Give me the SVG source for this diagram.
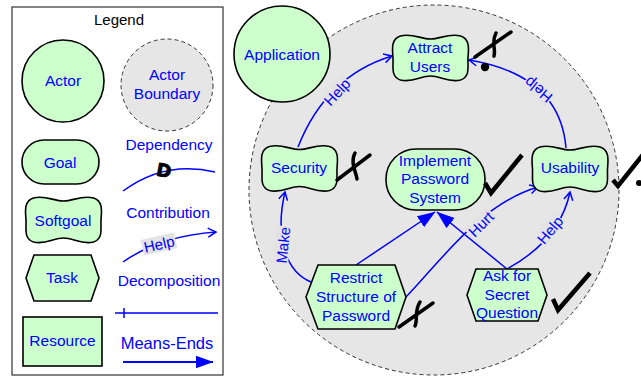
<svg xmlns="http://www.w3.org/2000/svg" width="641" height="378" viewBox="0 0 641 378">
<style>
text{font-family:"Liberation Sans",Arial,sans-serif;font-size:15.5px;fill:#0000ff;text-anchor:middle}
.n{fill:#ccffcc;stroke:#000;stroke-width:1.6}
.c{fill:none;stroke:#0000ff;stroke-width:1.5}
.mk{fill:none;stroke:#000;stroke-width:3.5;stroke-linecap:round;stroke-linejoin:round}
.ck{fill:none;stroke:#000;stroke-width:4.5;stroke-linecap:butt;stroke-linejoin:miter}
.lb{font-size:15px}
.lbg{fill:#e3e3e3}
.bd{fill:#e6e6e6;stroke:#333;stroke-width:1;stroke-dasharray:4,3}
</style>
<defs>
<path id="sg" d="M-30,-22 C-18,-25 -10,-19 0,-19 C10,-19 18,-25 30,-22 C40,-19 38,-8 37.5,0 C37,8 40,19 30,22 C18,25 10,18 0,18 C-10,18 -18,25 -30,22 C-40,19 -37,8 -37.5,0 C-38,-8 -40,-19 -30,-22 Z"/>
<marker id="open" markerWidth="12" markerHeight="12" refX="9" refY="5" orient="auto" markerUnits="userSpaceOnUse" viewBox="0 0 12 10"><path d="M1,0.5 L9,5 L1,9.5" fill="none" stroke="#0000ff" stroke-width="1.5"/></marker>
<marker id="filled" markerWidth="18" markerHeight="14" refX="17.5" refY="7" orient="auto" markerUnits="userSpaceOnUse" viewBox="0 0 18 14"><path d="M0,0.5 L18,7 L0,13.5 Z" fill="#0000ff"/></marker>
</defs>
<rect width="641" height="378" fill="#fff"/>

<g id="legend">
<rect x="12" y="7" width="211" height="368" fill="#fff" stroke="#333" stroke-width="1.2"/>
<text x="119" y="25" style="fill:#000;font-size:15px">Legend</text>
<g id="legend-actor"><circle class="n" cx="63" cy="81" r="41"/><text x="63" y="86">Actor</text></g>
<g id="legend-boundary"><circle class="bd" cx="167" cy="85" r="46"/><text x="167" y="80">Actor</text><text x="167" y="99">Boundary</text></g>
<text x="169" y="150">Dependency</text>
<path class="c" d="M123,191 Q165,160 215,172"/>
<text x="164" y="177" transform="rotate(10 164 170)" style="fill:#000;font-family:'DejaVu Sans',sans-serif;font-weight:bold;font-size:18px;stroke:#000;stroke-width:0.8">D</text>
<g id="legend-goal"><rect class="n" x="22" y="140" width="77" height="44" rx="22"/><text x="60" y="168">Goal</text></g>
<g id="legend-softgoal"><use href="#sg" class="n" transform="translate(63.5 220)"/><text x="63" y="226">Softgoal</text></g>
<text x="168" y="218">Contribution</text>
<path class="c" d="M123,262 Q160,236 216,232" marker-end="url(#open)"/>
<g transform="rotate(-13 159 244)"><rect class="lbg" x="142" y="236" width="34" height="16"/><text class="lb" x="159" y="249.5">Help</text></g>
<g id="legend-task"><polygon class="n" points="26,278 34,255 91,255 99,278 91,301 34,301"/><text x="62" y="283">Task</text></g>
<text x="169" y="286">Decomposition</text>
<path class="c" d="M115,313 L218,313 M124,308 L124,318"/>
<g id="legend-resource"><rect class="n" x="23" y="317" width="79" height="49"/><text x="62.5" y="346">Resource</text></g>
<text x="167" y="349" style="font-size:16.5px">Means-Ends</text>
<path class="c" d="M123,362 L213,362" style="stroke-width:2" marker-end="url(#filled)"/>
</g>

<g id="boundary"><circle class="bd" cx="434" cy="190" r="185"/></g>

<g id="connectors">
<path class="c" d="M298,147 Q326,76 392,56" marker-end="url(#open)"/>
<g transform="rotate(-47 337 92)"><rect class="lbg" x="321" y="84" width="32" height="15"/><text class="lb" x="337" y="97.5">Help</text></g>
<path class="c" d="M566,148 Q560,75 469,60" marker-end="url(#open)"/>
<g transform="rotate(-141 538 90)"><rect class="lbg" x="522" y="82" width="32" height="15"/><text class="lb" x="538" y="95.5">Help</text></g>
<path class="c" d="M311,282 C282,270 276,230 285,192" marker-end="url(#open)"/>
<g transform="rotate(-84 283 245)"><rect class="lbg" x="264" y="237" width="38" height="15"/><text class="lb" x="283" y="250.5">Make</text></g>
<path class="c" d="M406,297 C440,262 480,204 538,187" marker-end="url(#open)"/>
<g transform="rotate(-45 481 224)"><rect class="lbg" x="465" y="216" width="32" height="15"/><text class="lb" x="481" y="229.5">Hurt</text></g>
<path class="c" d="M507,269 Q560,240 570,192" marker-end="url(#open)"/>
<g transform="rotate(-50 550 230)"><rect class="lbg" x="534" y="222" width="32" height="15"/><text class="lb" x="550" y="235.5">Help</text></g>
<path class="c" d="M356,265 L435,212" marker-end="url(#filled)"/>
<path class="c" d="M507,269 L437,212" marker-end="url(#filled)"/>
</g>

<g id="application"><circle class="n" cx="282" cy="54" r="48"/><text x="282" y="60">Application</text></g>
<g id="attract-users"><use href="#sg" class="n" transform="translate(430.5 58)"/><text x="430" y="53">Attract</text><text x="430" y="72">Users</text></g>
<g id="security"><use href="#sg" class="n" transform="translate(299.5 168.5)"/><text x="299" y="173">Security</text></g>
<g id="usability"><use href="#sg" class="n" transform="translate(570 169)"/><text x="570" y="173">Usability</text></g>
<g id="implement-password-system"><rect class="n" x="386" y="149" width="99" height="61" rx="30"/><text x="435" y="166">Implement</text><text x="435" y="184">Password</text><text x="435" y="203">System</text></g>
<g id="restrict-structure"><polygon class="n" points="306,297 318,265 395,265 406,297 395,329 318,329"/><text x="356" y="283">Restrict</text><text x="356" y="302">Structure of</text><text x="356" y="321">Password</text></g>
<g id="ask-secret-question"><polygon class="n" points="467,295 476,269 538,269 547,295 538,321 476,321"/><text x="507" y="281">Ask for</text><text x="507" y="300">Secret</text><text x="507" y="318">Question</text></g>

<g id="marks">
<path class="mk" d="M475,57 L511,32 M496,33 C491,42 496,49 494,56"/>
<circle cx="485" cy="67" r="4.2" fill="#000"/>
<path class="mk" d="M337,180 L370,155 M355,153 C350,162 356,172 357,179"/>
<path class="mk" d="M399,327 L433,303 M420,302 C414,311 418,320 415,326"/>
<path class="ck" d="M485,183 L491,193 L522,155"/>
<path class="ck" d="M613,180 L618,186 L645,152"/>
<circle cx="639" cy="183" r="3" fill="#000"/>
<path class="ck" d="M553,299 L558,310 L590,273"/>
</g>
</svg>
